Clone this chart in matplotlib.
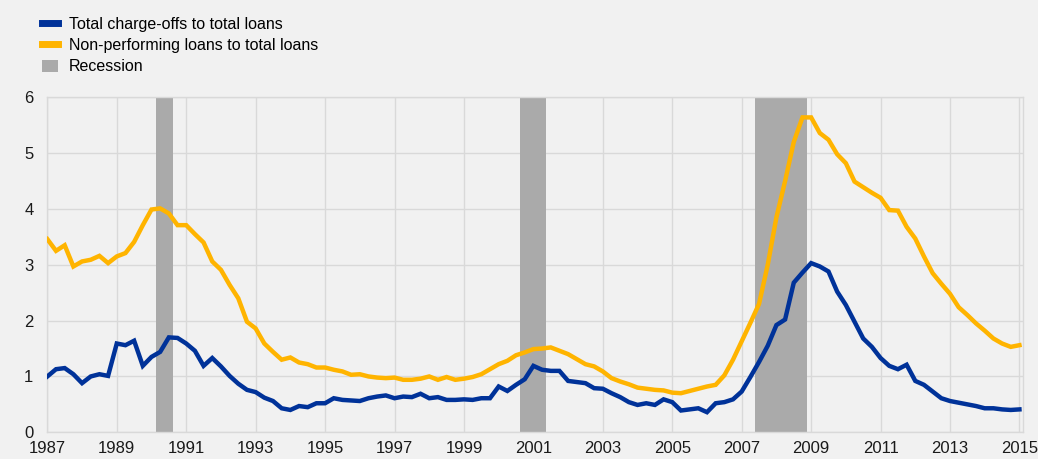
import matplotlib
matplotlib.use('Agg')
import matplotlib.pyplot as plt
from matplotlib.lines import Line2D
from matplotlib.patches import Patch
import numpy as np

plt.rcParams['font.family'] = ['Liberation Sans', 'DejaVu Sans']

# quarterly, 1987 Q1 .. 2015 Q1
charge_offs = [
    1.00, 1.13, 1.15, 1.04, 0.88, 1.00, 1.04, 1.01, 1.59, 1.56,
    1.64, 1.19, 1.35, 1.44, 1.70, 1.69, 1.59, 1.46, 1.19, 1.33,
    1.18, 1.01, 0.87, 0.76, 0.72, 0.62, 0.56, 0.43, 0.40, 0.47,
    0.45, 0.52, 0.52, 0.61, 0.58, 0.57, 0.56, 0.61, 0.64, 0.66,
    0.61, 0.64, 0.63, 0.69, 0.61, 0.63, 0.58, 0.58, 0.59, 0.58,
    0.61, 0.61, 0.82, 0.74, 0.85, 0.95, 1.19, 1.12, 1.10, 1.10,
    0.92, 0.90, 0.88, 0.79, 0.78, 0.70, 0.63, 0.54, 0.49, 0.52,
    0.49, 0.59, 0.54, 0.39, 0.41, 0.43, 0.36, 0.52, 0.54, 0.59,
    0.73, 0.99, 1.26, 1.55, 1.92, 2.02, 2.68, 2.86, 3.03, 2.97,
    2.88, 2.52, 2.28, 1.98, 1.68, 1.53, 1.33, 1.19, 1.13, 1.21,
    0.92, 0.85, 0.73, 0.61, 0.56, 0.53, 0.50, 0.47, 0.43, 0.43,
    0.41, 0.40, 0.41,
]
npl = [
    3.46, 3.25, 3.35, 2.97, 3.06, 3.09, 3.16, 3.03, 3.15, 3.21,
    3.41, 3.71, 3.99, 4.01, 3.92, 3.71, 3.71, 3.55, 3.40, 3.06,
    2.91, 2.64, 2.40, 1.98, 1.86, 1.59, 1.44, 1.30, 1.34, 1.25,
    1.22, 1.16, 1.16, 1.12, 1.09, 1.03, 1.04, 1.00, 0.98, 0.97,
    0.98, 0.94, 0.94, 0.96, 1.00, 0.94, 0.99, 0.94, 0.96, 0.99,
    1.04, 1.13, 1.22, 1.28, 1.38, 1.43, 1.49, 1.50, 1.52, 1.46,
    1.40, 1.31, 1.22, 1.18, 1.09, 0.97, 0.91, 0.86, 0.80, 0.78,
    0.76, 0.75, 0.71, 0.70, 0.74, 0.78, 0.82, 0.85, 1.02, 1.30,
    1.63, 1.96, 2.30, 3.00, 3.85, 4.50, 5.20, 5.64, 5.64, 5.36,
    5.24, 4.98, 4.82, 4.49, 4.39, 4.29, 4.20, 3.98, 3.97, 3.68,
    3.47, 3.15, 2.85, 2.66, 2.48, 2.24, 2.10, 1.95, 1.82, 1.68,
    1.59, 1.53, 1.56,
]
recessions = [(1990.125, 1990.625), (2000.625, 2001.375), (2007.375, 2008.875)]
year_ticks = list(range(1987, 2016, 2))

t = 1987 + np.arange(len(npl)) / 4.0

blue = '#003299'
yellow = '#ffb400'
grey = '#aaaaaa'
bg = '#f1f1f1'
gridc = '#d9d9d9'

fig = plt.figure(figsize=(10.38, 4.59), dpi=100, facecolor=bg)
ax = fig.add_axes([0.0456, 0.0582, 0.9402, 0.7298], facecolor=bg)

for a, b in recessions:
    ax.axvspan(a, b, color=grey, lw=0, zorder=1)
ax.plot(t, charge_offs, color=blue, lw=3.2, zorder=3, solid_joinstyle='miter')
ax.plot(t, npl, color=yellow, lw=3.2, zorder=3, solid_joinstyle='miter')

ax.set_xlim(1987, 2015.11)
ax.set_ylim(0, 6)
ax.set_xticks(year_ticks)
ax.set_yticks(range(0, 7))
ax.grid(True, color=gridc, lw=1, zorder=0)
ax.set_axisbelow(True)
for s in ax.spines.values():
    s.set_color(gridc)
    s.set_linewidth(1)
ax.tick_params(length=0, labelsize=12, colors='#1a1a1a')
ax.tick_params(axis='y', pad=10)
ax.tick_params(axis='x', pad=6)

handles = [
    Line2D([], [], color=blue, lw=5),
    Line2D([], [], color=yellow, lw=5),
    Patch(facecolor=grey, edgecolor='none'),
]
labels = ['Total charge-offs to total loans',
          'Non-performing loans to total loans',
          'Recession']
fig.legend(handles, labels, loc='upper left', bbox_to_anchor=(0.0405, 0.964),
           frameon=False, fontsize=11.5, handlelength=1.0, handleheight=0.75,
           handletextpad=0.69, labelspacing=0.40, borderpad=0, borderaxespad=0)

fig.savefig('out.png', dpi=100, facecolor=bg)
